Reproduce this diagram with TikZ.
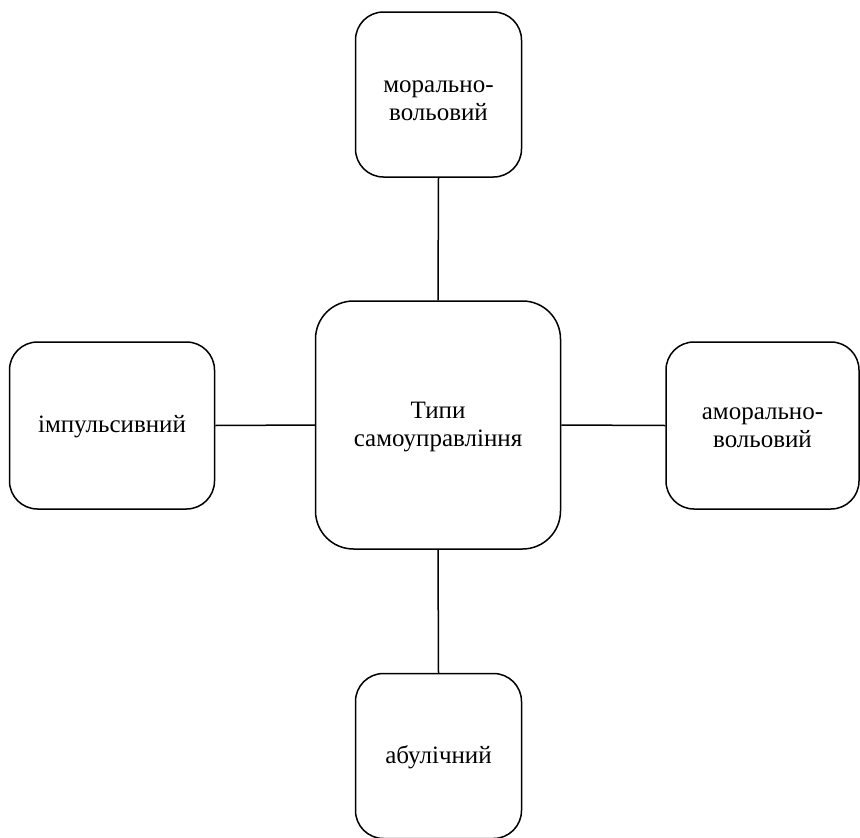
\documentclass[tikz,border=0pt]{standalone}
\usepackage{fontspec}
\setmainfont{Liberation Serif}
\begin{document}
\begin{tikzpicture}[x=1pt,y=-1pt,
  box/.style={draw=black, line width=1.5pt, fill=white, rounded corners=28pt, inner sep=0pt},
  txt/.style={align=center, inner sep=0pt, font=\fontsize{25}{27.5}\selectfont},
  link/.style={draw=black, line width=1.5pt}]
\useasboundingbox (0,0) rectangle (860,838);
\node[box, minimum width=245pt, minimum height=248pt, rounded corners=38pt,
  label={[txt, yshift=-2pt]center:{Типи\\самоуправління}}] (c) at (438,425) {};
\node[box, minimum width=166pt, minimum height=165pt,
  label={[txt, yshift=-6pt]center:{морально-\\вольовий}}] (t) at (438.5,94.5) {};
\node[box, minimum width=205pt, minimum height=167pt,
  label={[txt, yshift=-1pt]center:{імпульсивний}}] (l) at (112,425.5) {};
\node[box, minimum width=193pt, minimum height=167pt,
  label={[txt, yshift=-2pt]center:{аморально-\\вольовий}}] (r) at (762.5,425.5) {};
\node[box, minimum width=166pt, minimum height=165pt,
  label={[txt, yshift=-1pt]center:{абулічний}}] (b) at (438.5,756) {};
\draw[link] (t.south) -- (c.north);
\draw[link] (l.east) -- (c.west);
\draw[link] (c.east) -- (r.west);
\draw[link] (c.south) -- (b.north);
\end{tikzpicture}
\end{document}
